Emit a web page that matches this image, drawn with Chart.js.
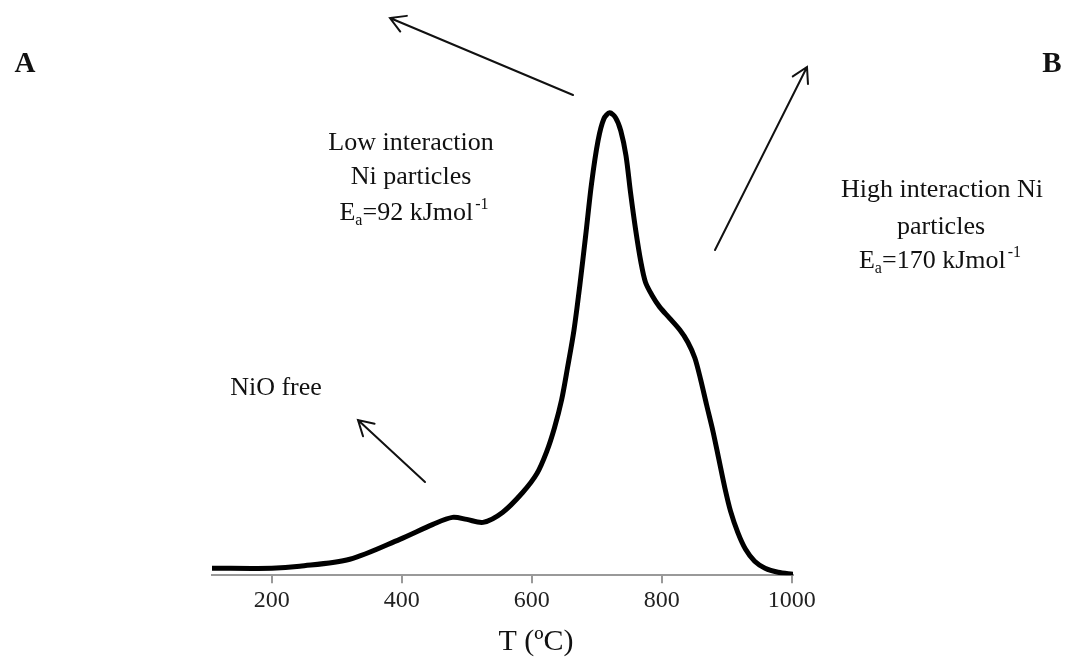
<!DOCTYPE html>
<html>
<head>
<meta charset="utf-8">
<script src="https://cdn.jsdelivr.net/npm/chart.js@4/dist/chart.umd.min.js"></script>
<style>
  body { margin: 0; background: #fff; }
</style>
</head>
<body>
<canvas id="tprChart" width="1067" height="659"></canvas>
<script>
// TPR profile (signal in arbitrary units)
const temps  = [108, 200, 243, 320, 397, 448, 478, 500, 525, 555, 586, 608, 623, 635, 646, 655, 665, 674, 683, 692, 702, 711, 720,
                729, 737, 745, 752, 760, 768, 775, 785, 797, 812, 828, 840, 851, 860, 869, 879, 888, 897, 906, 917, 929, 943, 959, 979, 1002];
const signal = [7, 7, 9, 16, 36, 51, 58, 56, 53, 63, 83, 102, 124, 148, 176, 208, 246, 291, 341, 393, 436, 458, 464,
                459, 446, 421, 384, 346, 314, 294, 281, 269, 258, 246, 234, 218, 196, 171, 144, 116, 88, 64, 43, 26, 14, 7, 3, 1];
const xTicks = [200, 400, 600, 800, 1000];

const serif = "'Liberation Serif', 'Times New Roman', serif";

// labels + arrows drawn on top of the chart
function arrow(ctx, x1, y1, x2, y2) {
    const a = Math.atan2(y2 - y1, x2 - x1);
    const len = 17, spread = Math.PI / 6;
    ctx.beginPath();
    ctx.moveTo(x1, y1);
    ctx.lineTo(x2, y2);
    ctx.moveTo(x2 - len * Math.cos(a - spread), y2 - len * Math.sin(a - spread));
    ctx.lineTo(x2, y2);
    ctx.lineTo(x2 - len * Math.cos(a + spread), y2 - len * Math.sin(a + spread));
    ctx.stroke();
}

function eaText(ctx, cx, y, value, size) {
    // E_a=xx kJmol^-1, centred on cx
    const big = size + "px " + serif, small = Math.round(size * 0.6) + "px " + serif;
    const mid = "=" + value + " kJmol";
    ctx.font = big;
    const wE = ctx.measureText("E").width, wMid = ctx.measureText(mid).width;
    ctx.font = small;
    const wA = ctx.measureText("a").width, wSup = ctx.measureText("-1").width;
    let x = cx - (wE + wA + wMid + wSup + 2) / 2;
    ctx.textAlign = "left";
    ctx.font = big; ctx.fillText("E", x, y); x += wE;
    ctx.font = small; ctx.fillText("a", x, y + 5); x += wA;
    ctx.font = big; ctx.fillText(mid, x, y); x += wMid + 2;
    ctx.font = small; ctx.fillText("-1", x, y - 11);
}

const annotations = {
    id: "annotations",
    afterDraw(chart) {
        const ctx = chart.ctx;
        ctx.save();
        ctx.fillStyle = "#111";
        ctx.strokeStyle = "#111";
        ctx.lineWidth = 2;
        ctx.lineCap = "round";
        ctx.textBaseline = "alphabetic";

        ctx.font = "bold 29px " + serif;
        ctx.textAlign = "center";
        ctx.fillText("A", 25, 72);
        ctx.fillText("B", 1052, 72);

        // axis title sits a little right of the plot centre in the original
        ctx.font = "30px " + serif;
        ctx.fillText("T (ºC)", 536, 650);

        ctx.font = "26px " + serif;
        ctx.fillText("Low interaction", 411, 150);
        ctx.fillText("Ni particles", 411, 184);
        eaText(ctx, 414, 220, "92", 26);

        ctx.textAlign = "center";
        ctx.font = "26px " + serif;
        ctx.fillText("High interaction Ni", 942, 197);
        ctx.fillText("particles", 941, 234);
        eaText(ctx, 940, 268, "170", 26);

        ctx.textAlign = "center";
        ctx.font = "26px " + serif;
        ctx.fillText("NiO free", 276, 395);

        arrow(ctx, 573, 95, 390, 18);
        arrow(ctx, 715, 250, 807, 67);
        arrow(ctx, 425, 482, 358, 420);
        ctx.restore();
    }
};

new Chart(document.getElementById("tprChart"), {
    type: "line",
    data: {
        datasets: [{
            data: temps.map((t, i) => ({ x: t, y: signal[i] })),
            borderColor: "#000",
            borderWidth: 5,
            borderCapStyle: "round",
            borderJoinStyle: "round",
            pointRadius: 0,
            tension: 0.3,
            fill: false,
        }],
    },
    options: {
        responsive: false,
        animation: false,
        layout: { padding: { left: 212, right: 274, top: 56, bottom: 41 } },
        plugins: { legend: { display: false }, tooltip: { enabled: false } },
        scales: {
            x: {
                type: "linear",
                min: 108,
                max: 1002,
                afterBuildTicks: (scale) => { scale.ticks = xTicks.map(v => ({ value: v })); },
                grid: { drawOnChartArea: false, tickLength: 8, color: "#999", lineWidth: 2 },
                border: { color: "#999", width: 2 },
                ticks: {
                    color: "#222", padding: 3, maxRotation: 0,
                    font: { family: serif, size: 24 },
                    callback: (v) => String(v),
                },
                title: { display: false },
            },
            y: { display: false, min: 0, max: 521 },
        },
    },
    plugins: [annotations],
});
</script>
</body>
</html>
